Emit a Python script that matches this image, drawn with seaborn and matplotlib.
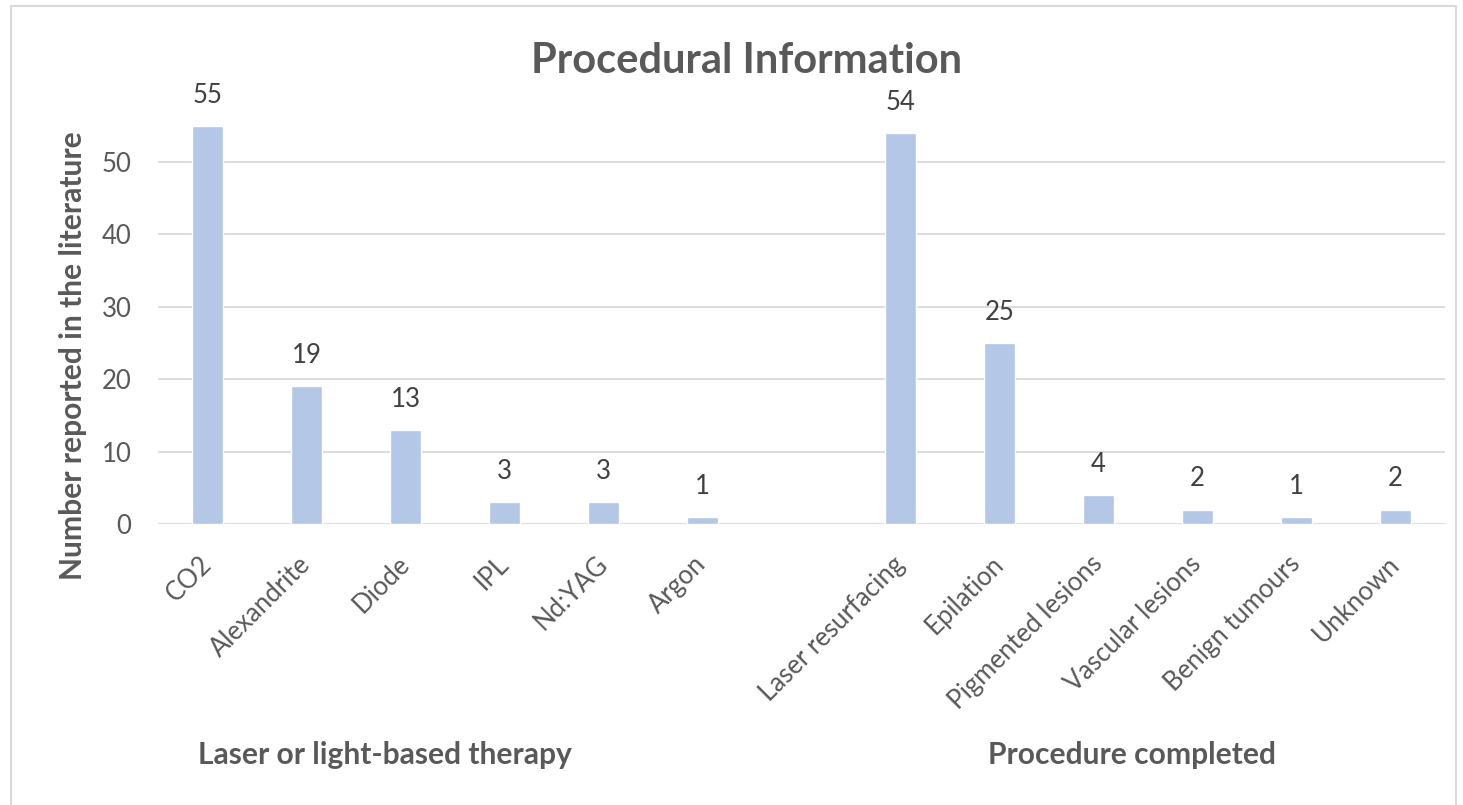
import matplotlib
matplotlib.use("Agg")
import matplotlib.pyplot as plt
from matplotlib.patches import Rectangle
import seaborn as sns
import pandas as pd

# Data: counts reported in the literature
therapies = ["CO2", "Alexandrite", "Diode", "IPL", "Nd:YAG", "Argon"]
therapy_counts = [55, 19, 13, 3, 3, 1]
procedures = ["Laser resurfacing", "Epilation", "Pigmented lesions",
              "Vascular lesions", "Benign tumours", "Unknown"]
procedure_counts = [54, 25, 4, 2, 1, 2]
y_ticks = [0, 10, 20, 30, 40, 50]

title = "Procedural Information"
y_title = "Number reported in the literature"
group_titles = ["Laser or light-based therapy", "Procedure completed"]

gap = " "  # empty slot between the two groups
order = therapies + [gap] + procedures
df = pd.DataFrame({"item": therapies + procedures,
                   "count": therapy_counts + procedure_counts})

sns.set_theme(style="white")
plt.rcParams["font.family"] = ["Lato", "DejaVu Sans"]

TEXT = "#595959"
GRID = "#D9D9D9"
BAR = "#B4C7E7"

W, H = 1463, 805
fig = plt.figure(figsize=(W / 100, H / 100), dpi=100)
ax = fig.add_axes([158 / W, 1 - 524 / H, (1445 - 158) / W, 434.4 / H])

sns.barplot(data=df, x="item", y="count", order=order, color=BAR,
            saturation=1, width=0.31, ax=ax, zorder=3)

ax.set_xlim(-0.5, len(order) - 0.5)
ax.set_ylim(0, 60)
ax.set_yticks(y_ticks)
ax.yaxis.grid(True, color=GRID, linewidth=1.3, zorder=0)
ax.xaxis.grid(False)
for s in ax.spines.values():
    s.set_visible(False)

ax.set_xlabel("")
ax.set_ylabel("")
ax.tick_params(axis="y", length=0, pad=19, labelsize=18.5, labelcolor=TEXT)
ax.tick_params(axis="x", length=0, pad=26, labelsize=18.5, labelcolor=TEXT)
for lbl in ax.get_xticklabels():
    lbl.set_rotation(45)
    lbl.set_ha("right")
    lbl.set_va("center")
    lbl.set_rotation_mode("anchor")

for cont in ax.containers:
    ax.bar_label(cont, fmt="%g", padding=13, fontsize=18.5, color="#404040")

fig.text(747 / W, 1 - 61 / H, title, ha="center", va="center",
         fontsize=30, fontweight="bold", color=TEXT)
fig.text(73 / W, 1 - 356 / H, y_title, ha="center", va="center",
         rotation=90, fontsize=21.6, fontweight="bold", color=TEXT)
fig.text(385 / W, 1 - 755 / H, group_titles[0], ha="center", va="center",
         fontsize=21.6, fontweight="bold", color=TEXT)
fig.text(1132 / W, 1 - 755 / H, group_titles[1], ha="center", va="center",
         fontsize=21.6, fontweight="bold", color=TEXT)

# chart-area frame
fig.patches.append(Rectangle((11 / W, -0.01), (1456 - 11) / W, 1.01 - 6 / H,
                             transform=fig.transFigure, fill=False,
                             edgecolor=GRID, linewidth=1.5))

fig.savefig("out.png", dpi=100, facecolor="white")
